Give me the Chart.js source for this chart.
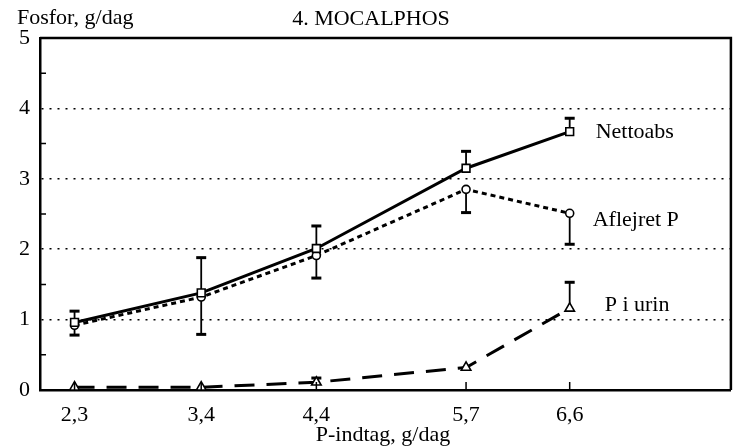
<!DOCTYPE html>
<html>
<head>
<meta charset="utf-8">
<script src="https://cdn.jsdelivr.net/npm/chart.js@4/dist/chart.umd.min.js"></script>
<style>
  html, body { margin: 0; padding: 0; background: #fff; }
</style>
</head>
<body>
<canvas id="myChart" width="738" height="448"></canvas>
<script>
// P-indtag (x) og maalte vaerdier
const pIndtag = [2.3, 3.4, 4.4, 5.7, 6.6];
const nettoabs = [0.96, 1.38, 2.01, 3.15, 3.67];
const nettoabsHoj = [1.12, 1.88, 2.33, 3.39, 3.86];
const aflejret = [0.92, 1.32, 1.91, 2.85, 2.51];
const aflejretLav = [0.78, 0.79, 1.59, 2.52, 2.07];
const urin = [0.04, 0.04, 0.11, 0.32, 1.16];
const urinHoj = [null, null, 0.17, null, 1.53];
const yTicks = [0, 1, 2, 3, 4, 5];

const FONT = "'Liberation Serif', 'Times New Roman', serif";

// tekst-forskydning for serie-navne ved sidste punkt
const navnOffset = [
    { dx: 26, dy: 1 },
    { dx: 23, dy: 7 },
    { dx: 35, dy: -3 }
];

function punkter(xs, ys) {
    return xs.map((v, i) => ({ x: v, y: ys[i] }));
}

const fejlPlugin = {
    id: 'fejl',
    beforeDatasetsDraw(chart) {
        const { ctx, scales: { x, y } } = chart;
        const par = [[nettoabs, nettoabsHoj], [aflejret, aflejretLav], [urin, urinHoj]];
        ctx.save();
        ctx.strokeStyle = '#000';
        par.forEach(([vals, graense]) => {
            graense.forEach((g, i) => {
                if (g === null) return;
                const px = x.getPixelForValue(pIndtag[i]);
                const p0 = y.getPixelForValue(vals[i]);
                const p1 = y.getPixelForValue(g);
                ctx.lineWidth = 1.8;
                ctx.beginPath();
                ctx.moveTo(px, p0);
                ctx.lineTo(px, p1);
                ctx.stroke();
                ctx.lineWidth = 3;
                ctx.beginPath();
                ctx.moveTo(px - 5, p1);
                ctx.lineTo(px + 5, p1);
                ctx.stroke();
            });
        });
        ctx.restore();
    },
    afterDraw(chart) {
        const { ctx, chartArea: a, scales: { x, y } } = chart;
        ctx.save();
        ctx.strokeStyle = '#000';
        // top og hoejre ramme
        ctx.lineWidth = 2.5;
        ctx.beginPath();
        ctx.moveTo(a.left, a.top);
        ctx.lineTo(a.right, a.top);
        ctx.lineTo(a.right, a.bottom);
        ctx.stroke();
        // smaa indadvendte streger
        ctx.lineWidth = 1.5;
        ctx.beginPath();
        for (let v = 0.5; v < 5; v += 1) {
            const py = y.getPixelForValue(v);
            ctx.moveTo(a.left, py);
            ctx.lineTo(a.left + 6, py);
        }
        pIndtag.forEach(v => {
            const px = x.getPixelForValue(v);
            ctx.moveTo(px, a.bottom);
            ctx.lineTo(px, a.bottom - 8);
        });
        ctx.stroke();

        // tekster
        ctx.fillStyle = '#000';
        ctx.font = '22px ' + FONT;
        ctx.textBaseline = 'alphabetic';
        ctx.textAlign = 'left';
        ctx.fillText('Fosfor, g/dag', 17, 24);
        ctx.textAlign = 'center';
        ctx.fillText('4. MOCALPHOS', 371, 25);
        ctx.fillText('P-indtag, g/dag', 383, 441);

        ctx.textAlign = 'left';
        ctx.textBaseline = 'middle';
        chart.data.datasets.forEach((ds, i) => {
            const meta = chart.getDatasetMeta(i);
            const sidste = meta.data[meta.data.length - 1];
            ctx.fillText(ds.label, sidste.x + navnOffset[i].dx, sidste.y + navnOffset[i].dy);
        });
        ctx.restore();
    }
};

const faelles = {
    borderColor: '#000',
    pointBorderColor: '#000',
    pointBackgroundColor: '#fff',
    pointBorderWidth: 1.6,
    tension: 0,
    fill: false,
    clip: false
};

new Chart(document.getElementById('myChart'), {
    type: 'line',
    data: {
        datasets: [
            Object.assign({}, faelles, {
                label: 'Nettoabs',
                data: punkter(pIndtag, nettoabs),
                borderWidth: 3,
                pointStyle: 'rect',
                pointRadius: 5.5
            }),
            Object.assign({}, faelles, {
                label: 'Aflejret P',
                data: punkter(pIndtag, aflejret),
                borderWidth: 3,
                borderDash: [5, 4],
                pointStyle: 'circle',
                pointRadius: 4
            }),
            Object.assign({}, faelles, {
                label: 'P i urin',
                data: punkter(pIndtag, urin),
                borderWidth: 3,
                borderDash: [20, 12],
                pointStyle: 'triangle',
                pointRadius: 5.5
            })
        ]
    },
    options: {
        responsive: false,
        animation: false,
        devicePixelRatio: 1,
        layout: { padding: { top: 38, right: 6, left: 0, bottom: 0 } },
        plugins: {
            legend: { display: false },
            tooltip: { enabled: false }
        },
        scales: {
            x: {
                type: 'linear',
                min: 2,
                max: 8,
                afterBuildTicks: s => { s.ticks = pIndtag.map(v => ({ value: v })); },
                afterFit: s => { s.height = 58; },
                grid: { display: false, drawTicks: false },
                border: { display: true, color: '#000', width: 2.5 },
                ticks: {
                    autoSkip: false,
                    maxRotation: 0,
                    padding: 12,
                    color: '#000',
                    font: { family: FONT, size: 22 },
                    callback: v => String(v).replace('.', ',')
                }
            },
            y: {
                min: 0,
                max: 5,
                afterBuildTicks: s => { s.ticks = yTicks.map(v => ({ value: v })); },
                afterFit: s => { s.width = 40; },
                grid: {
                    color: c => (c.tick && c.tick.value > 0 && c.tick.value < 5) ? '#000' : 'rgba(0,0,0,0)',
                    lineWidth: 1.5,
                    drawTicks: false
                },
                border: { display: true, color: '#000', width: 2.5, dash: [2, 6] },
                ticks: {
                    padding: 10,
                    color: '#000',
                    font: { family: FONT, size: 22 }
                }
            }
        }
    },
    plugins: [fejlPlugin]
});
</script>
</body>
</html>
